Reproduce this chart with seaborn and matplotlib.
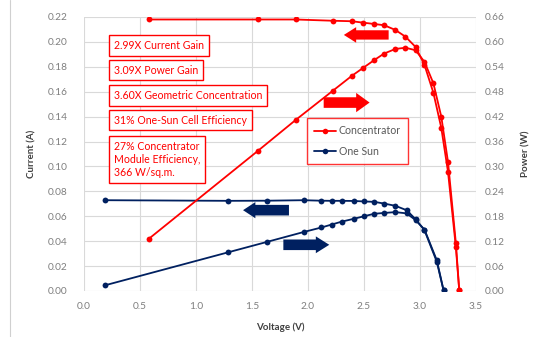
import matplotlib
matplotlib.use("Agg")
import matplotlib.pyplot as plt
import matplotlib.patches as mpatches
from matplotlib.lines import Line2D
import seaborn as sns
import pandas as pd

# ---- data ----
conc_v = [0.58, 1.55, 1.89, 2.22, 2.39, 2.49, 2.59, 2.68, 2.78, 2.87, 2.96, 3.04, 3.12, 3.19, 3.25, 3.32, 3.35]
conc_i = [0.218, 0.218, 0.218, 0.217, 0.2166, 0.2155, 0.2144, 0.2134, 0.2096, 0.2042, 0.196, 0.1815, 0.159, 0.131, 0.0957, 0.0354, 0.001]
conc_p = [0.126, 0.337, 0.412, 0.482, 0.518, 0.537, 0.556, 0.572, 0.583, 0.586, 0.580, 0.552, 0.500, 0.420, 0.311, 0.116, 0.003]

sun_v = [0.19, 1.29, 1.63, 1.96, 2.12, 2.21, 2.30, 2.41, 2.50, 2.59, 2.68, 2.78, 2.88, 2.96, 3.04, 3.15, 3.21]
sun_i = [0.0729, 0.0724, 0.0725, 0.0729, 0.0725, 0.0724, 0.0724, 0.0723, 0.0719, 0.0716, 0.0702, 0.0684, 0.0649, 0.0577, 0.0488, 0.0235, 0.0006]
sun_p = [0.0139, 0.0934, 0.118, 0.142, 0.153, 0.160, 0.167, 0.174, 0.180, 0.186, 0.188, 0.190, 0.187, 0.171, 0.148, 0.074, 0.002]

x_ticks = [0.0, 0.5, 1.0, 1.5, 2.0, 2.5, 3.0, 3.5]
y_ticks = [0.00, 0.02, 0.04, 0.06, 0.08, 0.10, 0.12, 0.14, 0.16, 0.18, 0.20, 0.22]
p_ticks = [0.00, 0.06, 0.12, 0.18, 0.24, 0.30, 0.36, 0.42, 0.48, 0.54, 0.60, 0.66]

notes = ["2.99X Current Gain", "3.09X Power Gain", "3.60X Geometric Concentration",
         "31% One-Sun Cell Efficiency", "27% Concentrator\nModule Efficiency,\n366 W/sq.m."]
series_names = ["Concentrator", "One Sun"]

RED = "#FF0000"
NAVY = "#002060"
TICK = "#7F7F7F"
LABEL = "#404040"
GRID = "#D9D9D9"

sns.set_theme(style="white")
plt.rcParams["font.family"] = ["Lato", "DejaVu Sans"]

W, H = 541, 337
fig = plt.figure(figsize=(W / 100, H / 100), dpi=100)
ax = fig.add_axes([84 / W, 1 - 291 / H, (476 - 84) / W, (291 - 17) / H])
ax2 = ax.twinx()

conc = pd.DataFrame({"V": conc_v, "I": conc_i, "P": conc_p})
sun = pd.DataFrame({"V": sun_v, "I": sun_i, "P": sun_p})

kw = dict(sort=False, estimator=None, marker="o", markersize=4.2, markeredgewidth=0, linewidth=1.3)
sns.lineplot(data=conc, x="V", y="I", ax=ax, color=RED, **kw)
sns.lineplot(data=sun, x="V", y="I", ax=ax, color=NAVY, **kw)
sns.lineplot(data=conc, x="V", y="P", ax=ax2, color=RED, **kw)
sns.lineplot(data=sun, x="V", y="P", ax=ax2, color=NAVY, **kw)

ax.set_xlim(0, 3.5)
ax.set_ylim(0, 0.22)
ax2.set_ylim(0, 0.66)
ax.set_xticks(x_ticks)
ax.set_xticklabels([f"{t:.1f}" for t in x_ticks])
ax.set_yticks(y_ticks)
ax.set_yticklabels([f"{t:.2f}" for t in y_ticks])
ax2.set_yticks(p_ticks)
ax2.set_yticklabels([f"{t:.2f}" for t in p_ticks])

for a in (ax, ax2):
    for s in a.spines.values():
        s.set_visible(False)
    a.tick_params(length=0, labelsize=7.3, labelcolor=TICK)
ax.tick_params(axis="y", pad=12)
ax.tick_params(axis="x", pad=8)
ax2.tick_params(axis="y", pad=6)
ax.grid(True, color=GRID, linewidth=0.8)
ax2.grid(False)
ax.set_axisbelow(True)

ax.set_xlabel("Voltage (V)", fontsize=7, color=LABEL, fontweight="bold", labelpad=8)
ax.set_ylabel("Current (A)", fontsize=7, color=LABEL, fontweight="bold", labelpad=8)
ax2.set_ylabel("Power (W)", fontsize=7, color=LABEL, fontweight="bold", labelpad=12, rotation=90)

# annotation boxes
box_y = [45.5, 70, 95.5, 120, 159.5]
for txt, yp in zip(notes, box_y):
    fig.text(114 / W, 1 - yp / H, txt, fontsize=7.6, color=RED, ha="left", va="center",
             linespacing=1.25,
             bbox=dict(boxstyle="square,pad=0.45", fc="white", ec=RED, lw=1.0))

# block arrows (in current-axis data coordinates)
def block_arrow(x, y, dx, color, body, head, hl):
    ax.add_patch(mpatches.FancyArrow(x, y, dx, 0, width=body, head_width=head,
                                     head_length=hl, length_includes_head=True,
                                     color=color, lw=0, zorder=5))

block_arrow(2.72, 0.2056, -0.40, RED, 0.0075, 0.0125, 0.11)
block_arrow(2.14, 0.1513, 0.41, RED, 0.0085, 0.0155, 0.12)
block_arrow(1.83, 0.0649, -0.41, NAVY, 0.0085, 0.013, 0.11)
block_arrow(1.78, 0.0371, 0.41, NAVY, 0.0085, 0.0135, 0.12)

handles = [Line2D([], [], color=RED, marker="o", markersize=4, lw=1.3, markeredgewidth=0),
           Line2D([], [], color=NAVY, marker="o", markersize=4, lw=1.3, markeredgewidth=0)]
leg = ax2.legend(handles, series_names, loc="upper left", bbox_to_anchor=(0.569, 0.631),
                 borderaxespad=0, fontsize=7.6, frameon=True, fancybox=False,
                 edgecolor=RED, handlelength=2.0, handletextpad=0.3, borderpad=0.7,
                 labelspacing=0.9)
leg.get_frame().set_linewidth(1.0)
for t in leg.get_texts():
    t.set_color("#595959")

# left border of the original picture
fig.add_artist(Line2D([10 / W, 10 / W], [0, 1], color="#D0D0D0", lw=0.8))

fig.savefig("out.png", dpi=100)
